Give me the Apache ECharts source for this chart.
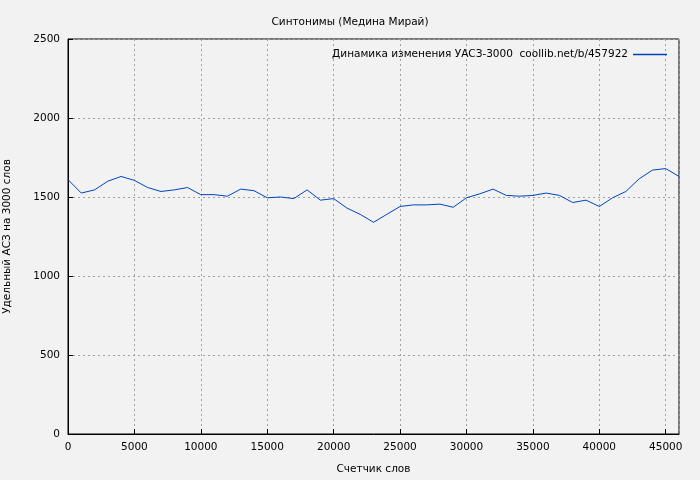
<!DOCTYPE html>
<html lang="en">
<head>
    <meta charset="UTF-8">
    <title>eCharts</title>
    <script src="https://cdn.jsdelivr.net/npm/echarts@6.0.0/dist/echarts.min.js"></script>
    <style>body{margin:0;background:#f2f2f2;}</style>
</head>
<body>
    <div id="main" style="width: 700px;height:480px;"></div>
    <script type="text/javascript">
        const words = [];
        for (let i = 0; i <= 46; i++) words.push(i * 1000);
        const values = [1610, 1525, 1545, 1600, 1630, 1605, 1560, 1535, 1545, 1560,
            1515, 1515, 1505, 1550, 1540, 1495, 1500, 1490, 1545, 1480,
            1490, 1430, 1390, 1340, 1390, 1440, 1450, 1450, 1455, 1435,
            1495, 1520, 1550, 1510, 1505, 1510, 1525, 1510, 1465, 1480,
            1440, 1495, 1535, 1615, 1670, 1680, 1630];
        const seriesName = 'Динамика изменения УАСЗ-3000  coollib.net/b/457922';

        let myChart = echarts.init(document.getElementById('main'));
        const axisText = { color: '#000', fontFamily: 'DejaVu Sans', fontSize: 10.5 };
        const grid = { show: true, lineStyle: { color: '#a0a0a0', type: [2, 3] } };

        myChart.setOption({
            backgroundColor: '#f2f2f2',
            animation: false,
            title: {
                text: 'Синтонимы (Медина Мирай)', left: 'center', top: 12,
                textStyle: { fontFamily: 'DejaVu Sans', fontSize: 10.5, fontWeight: 'normal', color: '#000' }
            },
            legend: {
                right: 28, top: 44, icon: 'path://M0,0H1V0.04H0Z', itemWidth: 34, itemHeight: 10,
                align: 'right', textStyle: axisText, data: [seriesName]
            },
            grid: { left: 68, right: 21, top: 39, bottom: 46, outerBoundsMode: 'none', containLabel: false,
                show: true, borderColor: '#000', borderWidth: 1 },
            xAxis: {
                type: 'value', min: 0, max: 46000, interval: 5000,
                name: 'Счетчик слов', nameLocation: 'middle', nameGap: 30, nameTextStyle: axisText,
                axisLine: { lineStyle: { color: '#000' } }, axisTick: { inside: true, lineStyle: { color: '#000' } },
                axisLabel: Object.assign({ formatter: v => String(v), showMaxLabel: false }, axisText), splitLine: grid
            },
            yAxis: {
                type: 'value', min: 0, max: 2500, interval: 500,
                name: 'Удельный АСЗ на 3000 слов', nameLocation: 'middle', nameGap: 55, nameTextStyle: axisText,
                axisLine: { show: true, lineStyle: { color: '#000' } }, axisTick: { show: true, inside: true, lineStyle: { color: '#000' } },
                axisLabel: Object.assign({ formatter: v => String(v) }, axisText), splitLine: grid
            },
            series: [{
                name: seriesName, type: 'line', showSymbol: false,
                data: words.map((w, i) => [w, values[i]]),
                lineStyle: { color: '#0044bb', width: 1 }, itemStyle: { color: '#0044bb' }
            }]
        });
    </script>
</body>
</html>
